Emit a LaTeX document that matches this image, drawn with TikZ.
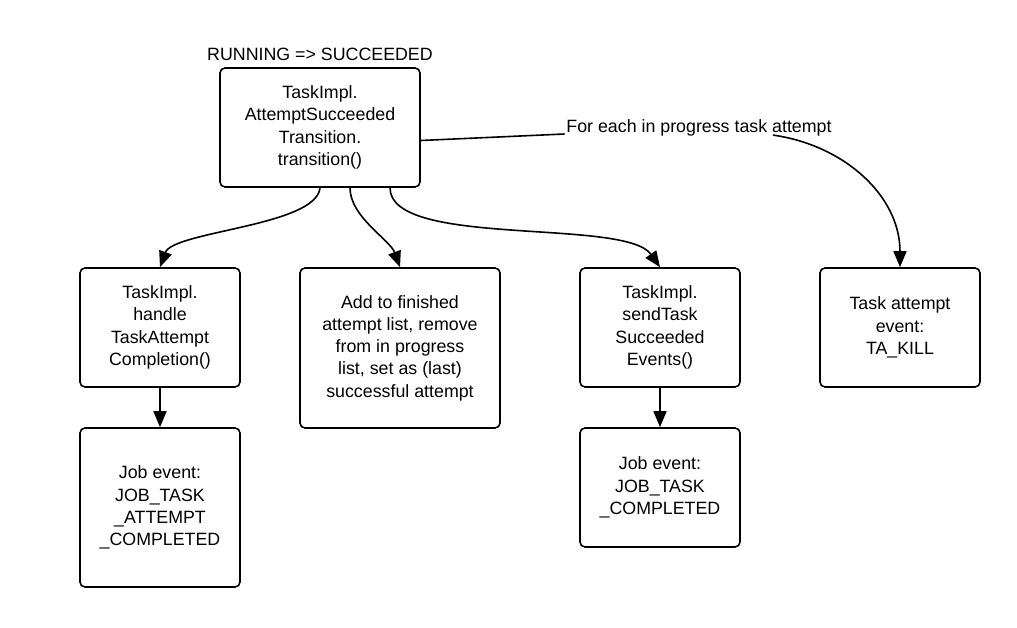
\documentclass[tikz,border=0pt]{standalone}
\usepackage{fontspec}
\setmainfont{Liberation Sans}
\usetikzlibrary{arrows.meta}

\begin{document}
\begin{tikzpicture}[x=1pt,y=-1pt,line width=1.6pt,
    box/.style={draw,rounded corners=5pt,align=center,inner sep=2pt,
      font=\fontsize{17.8}{22.3}\selectfont},
    lbl/.style={font=\fontsize{17.8}{22.3}\selectfont,inner sep=1pt},
    arr/.style={-{Triangle[length=16pt,width=13pt]}}]
  \useasboundingbox (0,0) rectangle (1017,628);

  % top state transition
  \node[lbl] (state) at (320,54) {RUNNING => SUCCEEDED};
  \node[box,minimum width=200pt,minimum height=119pt] (trans) at (320,127.5)
    {TaskImpl.\\AttemptSucceeded\\Transition.\\transition()};

  % second row
  \node[box,minimum width=160pt,minimum height=119pt] (handle) at (160,327.5)
    {TaskImpl.\\handle\\TaskAttempt\\Completion()};
  \node[box,minimum width=200pt,minimum height=160pt] (finish) at (400,348)
    {Add to finished\\attempt list, remove\\from in progress\\list, set as (last)\\successful attempt};
  \node[box,minimum width=160pt,minimum height=119pt] (send) at (660,327.5)
    {TaskImpl.\\sendTask\\Succeeded\\Events()};
  \node[box,minimum width=160pt,minimum height=119pt] (kill) at (900,327.5)
    {Task attempt\\event:\\TA\_KILL};

  % job events
  \node[box,minimum width=160pt,minimum height=159pt] (jobatt) at (160,507.5)
    {Job event:\\JOB\_TASK\\\_ATTEMPT\\\_COMPLETED};
  \node[box,minimum width=160pt,minimum height=119pt] (jobtask) at (660,487.5)
    {Job event:\\JOB\_TASK\\\_COMPLETED};

  % label on the kill connector
  \node[lbl] (each) at (699,128) {For each in progress task attempt};

  \draw[arr] ([xshift=0pt]trans.south) to[out=-95,in=70,looseness=0.55] (handle.north);
  \draw[arr] ([xshift=30pt]trans.south) to[out=-90,in=110,looseness=0.8] (finish.north);
  \draw[arr] ([xshift=70pt]trans.south) to[out=-90,in=125,looseness=0.55] (send.north);
  \draw[arr] (handle) -- (jobatt);
  \draw[arr] (send) -- (jobtask);
  \draw ([yshift=-13pt]trans.east) -- ([yshift=-6pt]each.west);
  \draw[arr] ([xshift=74pt,yshift=3pt]each.south) to[out=-8,in=90] (kill.north);
\end{tikzpicture}
\end{document}
